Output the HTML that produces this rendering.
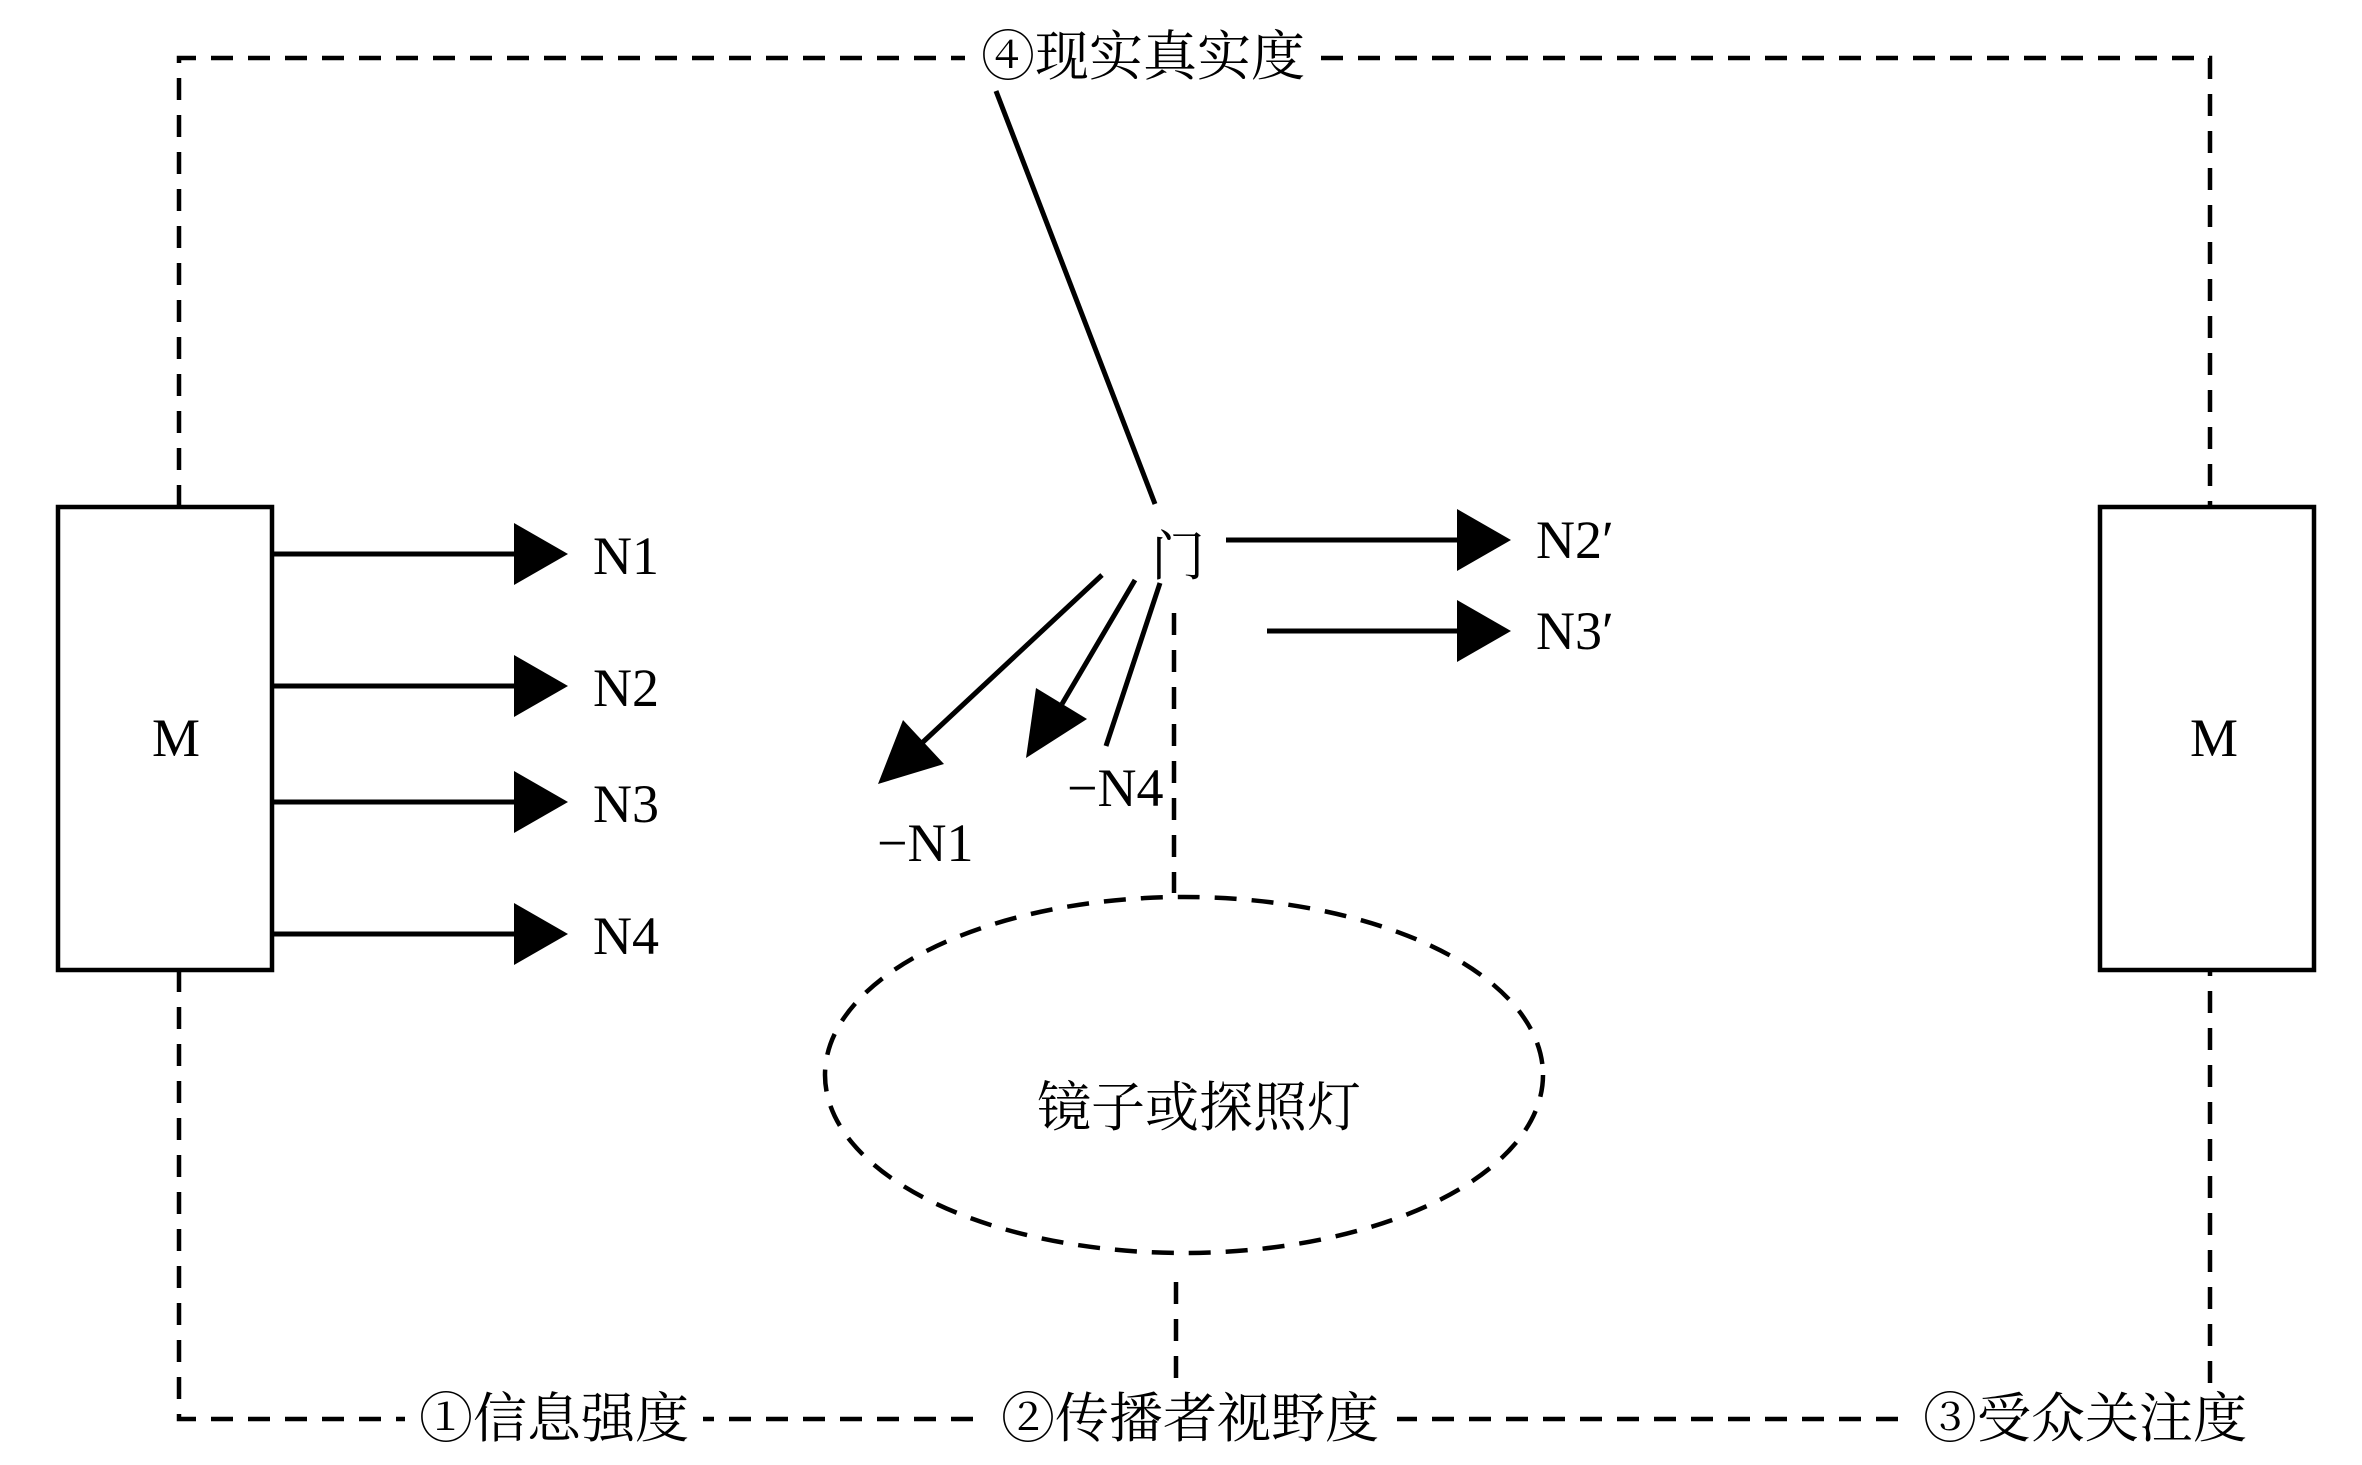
<!DOCTYPE html>
<html><head><meta charset="utf-8"><style>
html,body{margin:0;padding:0;background:#fff;}
svg{display:block;}
text{font-family:"Liberation Serif","Noto Serif CJK SC",serif;fill:#000;}
</style></head><body>
<svg width="2362" height="1465" viewBox="0 0 2362 1465" xmlns="http://www.w3.org/2000/svg">
<g fill="none" stroke="#000" stroke-width="4.5" stroke-dasharray="22 15">
  <polyline points="179,507 179,58 2210,58 2210,507"/>
  <polyline points="179,970 179,1419 2210,1419 2210,970"/>
  <line x1="1174" y1="613" x2="1174" y2="893"/>
  <line x1="1176" y1="1282" x2="1176" y2="1419"/>
  <ellipse cx="1184" cy="1075" rx="359" ry="178"/>
</g>
<!-- label backgrounds -->
<g fill="#fff">
  <rect x="965" y="30" width="356" height="58"/>
  <rect x="405" y="1392" width="298" height="56"/>
  <rect x="983" y="1392" width="414" height="56"/>
  <rect x="1907" y="1392" width="356" height="56"/>
</g>
<g fill="#fff" stroke="#000" stroke-width="4.5">
  <rect x="58" y="507" width="214" height="463"/>
  <rect x="2100" y="507" width="214" height="463"/>
</g>
<g stroke="#000" stroke-width="5" fill="none">
  <line x1="272" y1="554" x2="520" y2="554"/>
  <line x1="272" y1="686" x2="520" y2="686"/>
  <line x1="272" y1="802" x2="520" y2="802"/>
  <line x1="272" y1="934" x2="520" y2="934"/>
  <line x1="1226" y1="540" x2="1470" y2="540"/>
  <line x1="1267" y1="631" x2="1470" y2="631"/>
  <line x1="996" y1="91" x2="1155" y2="504"/>
  <line x1="1102" y1="575" x2="923" y2="742"/>
  <line x1="1135" y1="580" x2="1062" y2="704"/>
  <line x1="1160" y1="583" x2="1106" y2="746"/>
</g>
<g fill="#000">
  <polygon points="514,523 568,554 514,585"/>
  <polygon points="514,655 568,686 514,717"/>
  <polygon points="514,771 568,802 514,833"/>
  <polygon points="514,903 568,934 514,965"/>
  <polygon points="1457,509 1511,540 1457,571"/>
  <polygon points="1457,600 1511,631 1457,662"/>
  <polygon points="878,784 944,764 903,720"/>
  <polygon points="1026,758 1087,719 1036,688"/>
</g>
<g font-size="54">
  <text x="176" y="756" text-anchor="middle">M</text>
  <text x="2214" y="756" text-anchor="middle">M</text>
  <text x="593" y="574">N1</text>
  <text x="593" y="706">N2</text>
  <text x="593" y="822">N3</text>
  <text x="593" y="954">N4</text>
  <text x="1536" y="558">N2′</text>
  <text x="1536" y="649">N3′</text>
  <text x="1067" y="806">−N4</text>
  <text x="877" y="861">−N1</text>
</g>
<g font-size="54">
  <text x="1178" y="575" text-anchor="middle">门</text>
  <text x="1143" y="75" text-anchor="middle">④现实真实度</text>
  <text x="554" y="1437" text-anchor="middle">①信息强度</text>
  <text x="1190" y="1437" text-anchor="middle">②传播者视野度</text>
  <text x="2085" y="1437" text-anchor="middle">③受众关注度</text>
  <text x="1199" y="1126" text-anchor="middle">镜子或探照灯</text>
</g>
</svg>
</body></html>
